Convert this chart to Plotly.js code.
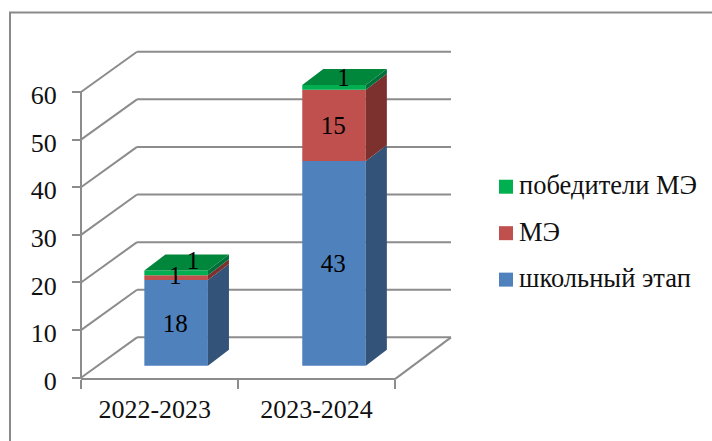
<!DOCTYPE html>
<html><head><meta charset="utf-8">
<script src="https://cdn.plot.ly/plotly-3.0.1.min.js"></script>
<style>html,body{margin:0;padding:0;background:#fff}</style></head>
<body><div id="chart" style="width:712px;height:441px"></div>
<script>
// Data
const categories = ['2022-2023', '2023-2024'];
const seriesNames = ['школьный этап', 'МЭ', 'победители МЭ'];
const schoolStage = [18, 43];
const municipalStage = [1, 15];
const municipalWinners = [1, 1];
const yTicks = [0, 10, 20, 30, 40, 50, 60];

// Styles and 3D geometry (axis units)
const FONT = 'Liberation Serif';
const frontColors = ['#4f81bd', '#c0504d', '#00b050'];
const sideColors = ['#335378', '#7d312f', '#00703a'];
const topColor = '#00873c';
const gridColor = '#8c8c8c';
const wallDx = 0.357, wallDy = 8.47;      // depth of the chart box
const barDx = 0.134, barDy = 3.36;        // depth of a bar
const barLift = 2.5;                      // bar base above the front floor edge
const barCenters = [0.606, 1.612], barWidth = 0.405;
const labelPos = [0.47, 1.5];
const labelShift = {1: [[-0.005, 0], [-0.005, -0.5]], 2: [[0.108, 2.1], [0.06, 1.6]]};
const pxX = 157, pxY = 4.755;             // pixels per axis unit
const padL = 0.03, padR = 0.03, padB = 2, padT = 0.6;

const values = [schoolStage, municipalStage, municipalWinners];
const bases = values.map((s, k) => s.map((_, i) =>
  barLift + values.slice(0, k).reduce((a, v) => a + v[i], 0)));

const traces = [];
// bars
values.forEach((s, k) => traces.push({
  type: 'bar', x: barCenters, y: s, base: bases[k], width: barWidth,
  marker: {color: frontColors[k], line: {width: 0}}, showlegend: false, hoverinfo: 'skip'
}));
// side faces
values.forEach((s, k) => {
  const xs = [], ys = [];
  s.forEach((v, i) => {
    const r = barCenters[i] + barWidth / 2, b = bases[k][i], t = b + v;
    xs.push(r, r + barDx, r + barDx, r, r, null);
    ys.push(b, b + barDy, t + barDy, t, b, null);
  });
  traces.push({type: 'scatter', mode: 'lines', x: xs, y: ys, fill: 'toself', fillcolor: sideColors[k],
    line: {width: 0}, showlegend: false, hoverinfo: 'skip', cliponaxis: false});
});
// top faces
{
  const xs = [], ys = [];
  barCenters.forEach((c, i) => {
    const l = c - barWidth / 2, r = c + barWidth / 2, t = bases[2][i] + municipalWinners[i];
    xs.push(l, r, r + barDx, l + barDx, l, null);
    ys.push(t, t, t + barDy, t + barDy, t, null);
  });
  traces.push({type: 'scatter', mode: 'lines', x: xs, y: ys, fill: 'toself', fillcolor: topColor,
    line: {width: 0}, showlegend: false, hoverinfo: 'skip', cliponaxis: false});
}
// data labels
values.forEach((s, k) => {
  const sh = labelShift[k] || s.map(() => [-0.005, -0.5]);
  traces.push({type: 'scatter', mode: 'text',
    x: barCenters.map((c, i) => c + sh[i][0]),
    y: s.map((v, i) => bases[k][i] + v / 2 + sh[i][1]),
    text: s.map(String), textposition: 'middle center',
    textfont: {family: FONT, size: 25, color: '#000'},
    showlegend: false, hoverinfo: 'skip', cliponaxis: false});
});
// legend entries (top to bottom)
[2, 1, 0].forEach(k => traces.push({
  type: 'scatter', mode: 'markers', x: [null], y: [null], name: seriesNames[k], legendgroup: 'g' + k,
  marker: {symbol: 'square', size: 14, color: frontColors[k]}, hoverinfo: 'skip'
}));

// back walls, floor edges, axis lines
const line = (x0, y0, x1, y1) => ({type: 'line', xref: 'x', yref: 'y', layer: 'below',
  x0, y0, x1, y1, line: {color: gridColor, width: 2}});
const shapes = [];
yTicks.forEach(v => {
  shapes.push(line(0, v, wallDx, v + wallDy));
  shapes.push(line(wallDx, v + wallDy, 2 + wallDx, v + wallDy));
});
shapes.push(line(0, 0, 0, 60));
shapes.push(line(0, -0.3, 2, -0.3));
shapes.push(line(2, -0.3, 2 + wallDx, wallDy));
// outer frame
shapes.push({type: 'path', xref: 'paper', yref: 'paper', layer: 'below',
  path: `M ${10/712} 0 L ${10/712} ${(441-12.5)/441} L 1 ${(441-12.5)/441}`,
  line: {color: '#8a8a8a', width: 2}});

const layout = {
  width: 712, height: 441, margin: {l: 0, r: 0, t: 0, b: 0},
  paper_bgcolor: '#ffffff', plot_bgcolor: 'rgba(0,0,0,0)',
  barmode: 'overlay', showlegend: true, shapes,
  xaxis: {domain: [(81 - padL * pxX) / 712, (451 + padR * pxX) / 712], range: [-padL, 2 + wallDx + padR],
    anchor: 'free', position: (441 - 379) / 441, showgrid: false, zeroline: false,
    showline: false, tickmode: 'array', tickvals: labelPos, ticktext: categories, ticks: '',
    ticklabelstandoff: 12, tickfont: {family: FONT, size: 26, color: '#111'},
    minor: {tickmode: 'array', tickvals: [0, 1, 2], ticks: 'outside', ticklen: 9, tickwidth: 2, tickcolor: gridColor, showgrid: false}},
  yaxis: {domain: [(441 - 377.7 - padB * pxY) / 441, (441 - 51.7 + padT * pxY) / 441], range: [-padB, 60 + wallDy + padT],
    anchor: 'free', position: 81 / 712, showgrid: false, zeroline: false,
    showline: false, tickmode: 'array', tickvals: yTicks, ticks: 'outside', ticklen: 9, tickwidth: 2, tickcolor: gridColor,
    ticklabelstandoff: 10, ticklabelshift: 3, tickfont: {family: FONT, size: 26, color: '#111'}},
  legend: {x: 486 / 712, xanchor: 'left', y: (441 - 163) / 441, yanchor: 'top', traceorder: 'grouped',
    tracegroupgap: 9, itemclick: false, itemdoubleclick: false, bgcolor: 'rgba(0,0,0,0)',
    font: {family: FONT, size: 26.5, color: '#111'}}
};
Plotly.newPlot('chart', traces, layout, {displayModeBar: false}).then(() => {
  document.querySelectorAll('.legendtext').forEach(t => {
    t.setAttribute('x', 33);
    t.setAttribute('y', parseFloat(t.getAttribute('y') || 0) - 3);
  });
});
</script></body></html>
